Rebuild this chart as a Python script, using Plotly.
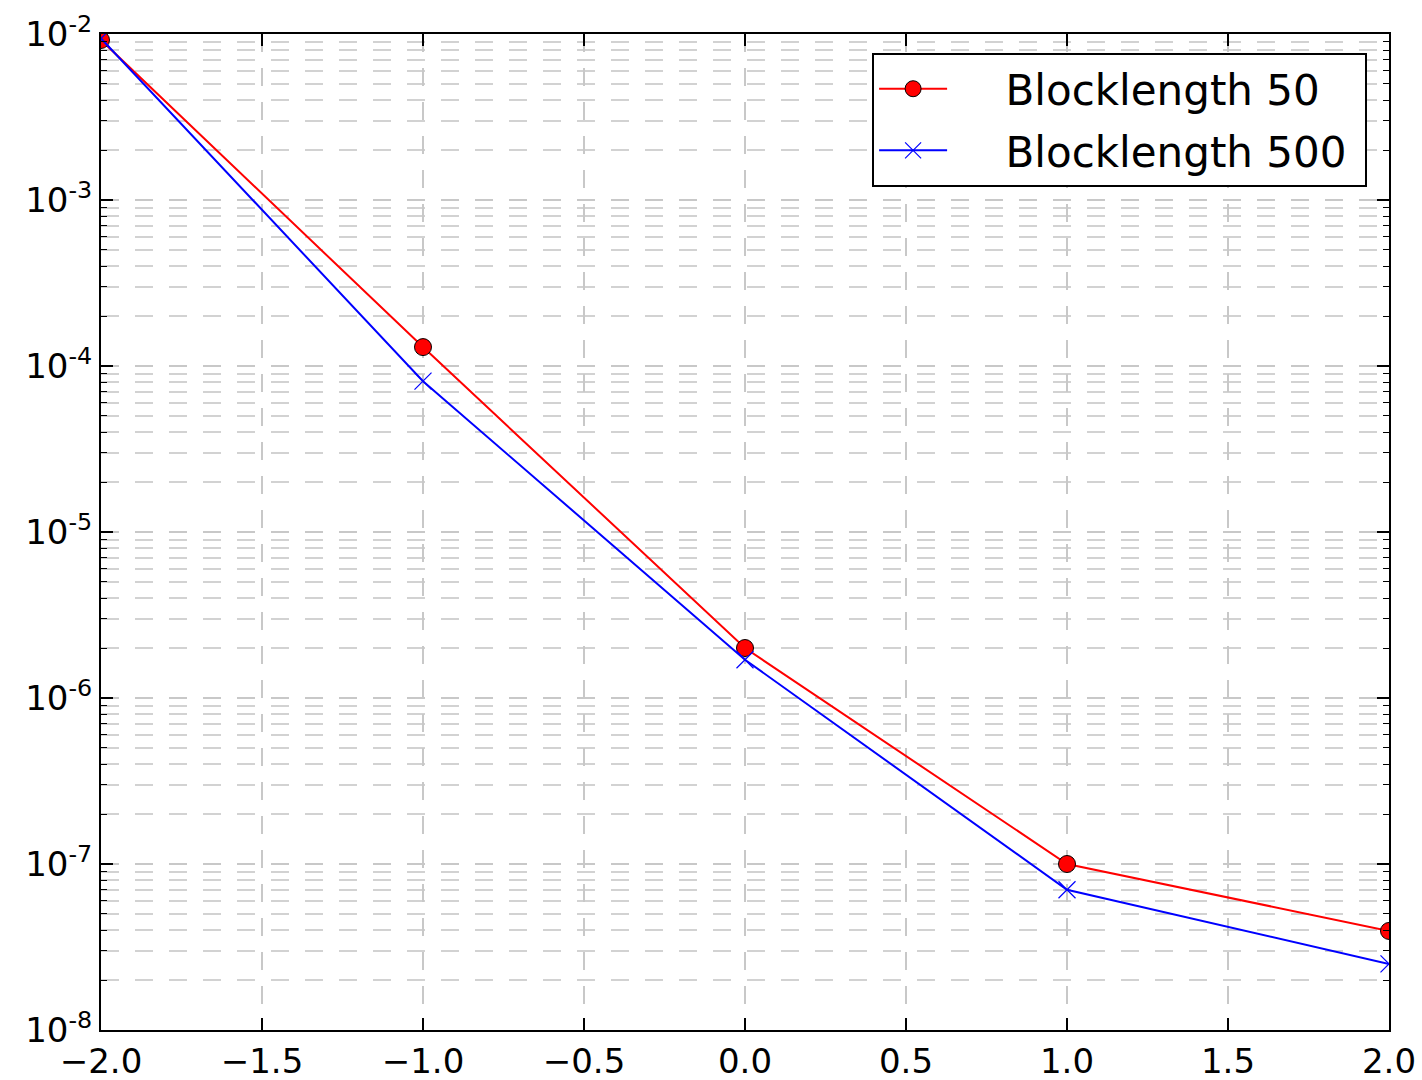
import plotly.graph_objects as go

snr = [-2.0, -1.0, 0.0, 1.0, 2.0]
bl50 = [9.2e-3, 1.3e-4, 2.0e-6, 1.0e-7, 3.95e-8]
bl500 = [9.4e-3, 8.1e-5, 1.7e-6, 7.0e-8, 2.5e-8]

x_ticks = [-2.0, -1.5, -1.0, -0.5, 0.0, 0.5, 1.0, 1.5, 2.0]
y_exps = [-8, -7, -6, -5, -4, -3, -2]
y_ticktext = ["10<sup>%d</sup>" % e for e in y_exps]
y_tickvals = [10.0 ** e for e in y_exps]
y_minor = [m * 10.0 ** e for e in y_exps[:-1] for m in range(2, 10)]

pad = "\u00a0" * 4
tail = "\u00a0"

fig = go.Figure()
fig.add_trace(go.Scatter(
    x=snr, y=bl50, name=pad + "Blocklength 50" + tail, mode="lines+markers",
    legendgroup="a",
    line=dict(color="#ff0000", width=2),
    marker=dict(symbol="circle", size=17, color="#ff0000",
                line=dict(color="#000000", width=1)),
))
fig.add_trace(go.Scatter(
    x=snr, y=bl500, name=pad + "Blocklength 500" + tail, mode="lines+markers",
    legendgroup="b",
    line=dict(color="#0000ff", width=2),
    marker=dict(symbol="x-thin-open", size=17, color="#0000ff",
                line=dict(color="#0000ff", width=1.2)),
))

grid = dict(gridcolor="#c8c8c8", gridwidth=1.5, griddash="18px,16px")

fig.update_xaxes(
    range=[-2, 2], tickvals=x_ticks, tickformat=".1f",
    ticks="inside", ticklen=12, tickwidth=1.5, tickcolor="black",
    showline=True, linecolor="black", linewidth=2, mirror="allticks",
    showgrid=True, zeroline=False, automargin=False,
    tickfont=dict(family="DejaVu Sans", size=34, color="black"),
    **grid,
)
fig.update_yaxes(
    type="log", range=[-8, -2], tickvals=y_tickvals, ticktext=y_ticktext,
    ticks="inside", ticklen=12, tickwidth=1.5, tickcolor="black",
    showline=True, linecolor="black", linewidth=2, mirror="allticks",
    showgrid=True, zeroline=False, automargin=False,
    tickfont=dict(family="DejaVu Sans", size=34, color="black"),
    minor=dict(tickvals=y_minor, ticks="inside", ticklen=6, tickwidth=1.2,
               tickcolor="black", showgrid=True, gridcolor="#d2d2d2",
               gridwidth=1.5, griddash="18px,16px"),
    **grid,
)

fig.update_layout(
    width=1422, height=1080,
    margin=dict(l=101, r=33, t=34, b=50),
    plot_bgcolor="white", paper_bgcolor="white",
    font=dict(family="DejaVu Sans", color="black"),
    legend=dict(
        x=0.983, y=0.981, xanchor="right", yanchor="top",
        bgcolor="white", bordercolor="black", borderwidth=2,
        font=dict(family="DejaVu Sans", size=42, color="black"),
        itemwidth=68, tracegroupgap=4,
    ),
)

fig.write_html("out.html")
